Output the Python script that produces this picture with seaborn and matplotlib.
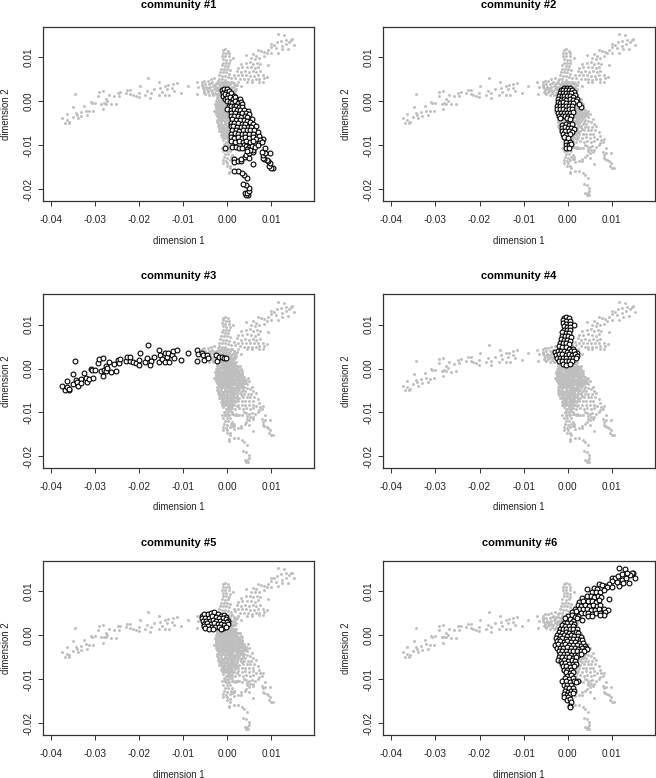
# Six community panels over one shared embedding
import numpy as np
import pandas as pd
import seaborn as sns
import matplotlib
matplotlib.use('Agg')
import matplotlib.pyplot as plt

# coordinates, in thousandths (dim1, dim2)
c1 = [(4.8,-21.3),(4.3,-21.3),(4.0,-20.8),(4.6,-20.9),(4.9,-20.4),(4.9,-19.6),(4.3,-19.0),(3.6,-18.7),(4.5,-17.5),(3.9,-16.8),
(3.4,-16.2),(2.6,-15.8),(1.7,-15.8),(10.5,-15.2),(10.1,-15.2),(9.6,-14.8),(9.7,-14.0),(9.4,-13.6),(9.0,-13.4),(8.4,-13.2),
(8.1,-12.8),(8.2,-12.1),(9.8,-11.8),(8.6,-11.7),(8.0,-11.5),(8.6,-10.7),(8.2,-8.6),(6.0,-14.2),(-0.5,-10.5),(1.5,-13.0),
(1.7,-13.7),(2.5,-13.5),(3.2,-13.6),(3.2,-13.0),(4.0,-12.6),(4.4,-12.2),(5.0,-12.8),(5.0,-11.8),(5.8,-11.6),(6.0,-11.0),
(-1.1,2.6),(-0.6,2.8),(0.0,2.9),(-0.9,2.0),(-0.3,2.2),(0.4,2.3),(-1.0,1.3),(-0.4,1.6),(0.2,1.5),(0.9,1.8),
(1.5,1.3),(-0.5,0.6),(0.1,0.8),(0.7,0.9),(1.3,0.6),(1.9,0.9),(2.5,0.4),(3.0,0.6),(0.0,0.0),(0.6,-0.1),
(1.2,-0.3),(1.8,0.0),(2.4,-0.4),(3.1,-0.2),(3.4,-0.5),(0.4,-1.0),(0.9,-1.1),(1.5,-1.0),(2.1,-1.1),(2.8,-1.2),
(3.4,-1.3),(0.1,-1.8),(0.9,-1.9),(1.6,-1.7),(2.3,-1.9),(3.0,-2.0),(3.8,-2.0),(4.7,-2.1),(1.0,-2.6),(1.9,-2.6),
(2.7,-2.8),(3.5,-2.7),(4.3,-2.6),(5.0,-2.9),(0.9,-3.3),(1.6,-3.4),(2.4,-3.4),(3.2,-3.5),(4.0,-3.3),(4.6,-3.6),
(1.2,-4.1),(2.1,-4.2),(2.9,-4.2),(3.8,-4.3),(4.5,-4.4),(5.7,-4.1),(5.2,-4.7),(0.9,-5.0),(1.7,-5.0),(2.6,-5.0),
(3.4,-5.1),(4.2,-5.2),(6.0,-5.1),(0.8,-5.6),(1.4,-5.7),(2.3,-5.8),(3.1,-5.9),(3.9,-5.9),(4.7,-5.8),(5.5,-5.8),
(6.5,-5.6),(1.1,-6.6),(2.0,-6.5),(2.8,-6.7),(3.7,-6.6),(4.5,-6.6),(5.3,-6.5),(6.1,-6.6),(7.0,-7.0),(1.0,-7.4),
(1.8,-7.3),(2.6,-7.5),(3.4,-7.4),(4.2,-7.5),(5.1,-7.4),(5.8,-7.5),(7.2,-7.9),(0.8,-8.2),(1.6,-8.3),(2.4,-8.2),
(3.3,-8.3),(4.1,-8.2),(5.0,-8.3),(5.9,-8.2),(6.6,-8.5),(7.5,-8.7),(1.0,-9.1),(1.9,-9.2),(2.7,-9.1),(3.6,-9.2),
(4.4,-9.1),(5.2,-9.2),(6.0,-9.0),(7.2,-9.4),(7.9,-9.3),(1.2,-10.4),(2.0,-10.3),(2.8,-10.5),(3.8,-10.0),(4.4,-10.2),
(5.0,-10.3),(5.6,-10.1),(6.3,-10.3),(4.6,-10.8),(5.3,-11.1),(4.6,-11.4),(7.0,-10.0),(3.4,-10.7)]

c2 = [(2.9,-1.2),(-0.8,3.0),(-0.2,3.1),(0.4,3.0),(-1.5,2.6),(-1.0,2.5),(-0.4,2.5),(0.2,2.6),(0.9,2.5),(1.5,2.2),
(-1.7,1.9),(-1.1,1.9),(-0.5,1.8),(0.2,1.9),(0.8,1.8),(1.7,1.5),(-2.0,1.2),(-1.4,1.2),(-0.8,1.1),(-0.1,1.2),
(0.6,1.2),(1.3,1.0),(2.2,0.6),(-2.2,0.5),(-1.6,0.4),(-0.9,0.5),(-0.3,0.4),(0.5,0.5),(1.2,0.3),(1.9,0.1),
(-2.3,-0.2),(-1.7,-0.3),(-1.0,-0.2),(-0.3,-0.3),(0.4,-0.3),(1.1,-0.4),(2.5,-0.7),(-2.4,-1.0),(-1.8,-1.0),(-1.1,-1.1),
(-0.4,-1.0),(0.3,-1.1),(1.0,-1.1),(-2.4,-1.8),(-1.8,-1.8),(-1.1,-1.8),(-0.4,-1.9),(0.3,-1.8),(0.9,-1.7),(-2.3,-2.6),
(-1.6,-2.6),(-0.9,-2.7),(-0.2,-2.6),(0.5,-2.6),(1.1,-2.5),(-2.0,-3.3),(-1.4,-3.4),(-0.7,-3.4),(0.1,-3.3),(0.8,-3.3),
(-1.7,-3.9),(-0.2,-3.9),(0.4,-4.0),(-1.2,-5.4),(-0.5,-5.2),(0.2,-5.3),(0.9,-5.2),(-1.4,-6.0),(-0.7,-5.9),(0.0,-6.1),
(0.8,-6.0),(1.4,-6.2),(-1.3,-6.8),(-0.6,-6.7),(0.2,-6.8),(0.9,-7.0),(-1.0,-7.5),(-0.3,-7.6),(0.5,-7.5),(-0.8,-8.2),
(0.0,-8.3),(-0.3,-9.2),(0.4,-9.3),(-0.4,-9.9),(0.3,-10.0),(0.8,-9.7),(-0.3,-10.6),(0.3,-10.7)]

c3 = [(-37.4,-3.9),(-36.9,-4.9),(-36.4,-2.8),(-36.4,-4.2),(-35.9,-4.9),(-35.8,-4.6),(-35.0,-3.6),(-34.9,-1.3),(-34.5,1.6),(-34.4,-2.6),
(-34.1,-3.1),(-33.9,-3.9),(-33.2,-2.5),(-33.1,-3.3),(-32.4,-1.1),(-32.1,-2.1),(-31.7,-3.1),(-31.3,-2.3),(-31.0,-0.2),(-30.7,-0.4),
(-30.4,-2.2),(-30.0,-0.3),(-29.2,1.2),(-29.1,2.1),(-28.6,-0.5),(-28.2,-1.7),(-28.2,2.4),(-28.0,-0.4),(-27.6,0.6),(-27.5,-0.5),
(-27.2,0.1),(-26.9,1.4),(-26.4,-0.7),(-25.7,1.1),(-25.3,-0.6),(-24.8,2.0),(-24.6,1.2),(-24.3,2.1),(-23.0,1.8),(-22.7,2.6),
(-22.0,1.7),(-22.0,2.6),(-21.4,1.5),(-20.7,1.2),(-20.1,0.9),(-20.1,1.9),(-19.8,3.5),(-18.6,1.5),(-18.1,2.3),(-17.9,5.3),
(-17.3,1.8),(-17.4,0.8),(-16.5,2.7),(-15.4,4.3),(-15.5,1.5),(-15.2,3.0),(-14.8,2.1),(-14.1,1.4),(-14.1,3.5),(-13.6,2.7),
(-13.3,3.6),(-13.1,1.4),(-12.5,3.0),(-12.3,3.9),(-12.0,2.3),(-11.4,4.2),(-10.4,2.0),(-8.9,3.5),(-6.9,4.3),(-6.7,1.6),
(-6.6,3.3),(-5.7,3.6),(-5.4,3.0),(-5.2,2.0),(-4.6,3.0),(-4.3,2.3),(-2.5,3.1),(-2.2,1.7),(-1.7,2.7),(-1.1,2.7),
(-0.7,2.3),(-0.2,2.3)]

c4 = [(-0.9,11.6),(-0.4,11.8),(0.3,11.5),(-1.0,11.0),(-0.3,10.9),(0.5,10.9),(-1.1,10.3),(-0.4,10.2),(0.4,10.2),(1.4,9.9),
(-0.9,9.6),(-0.2,9.5),(0.6,9.4),(-0.9,8.8),(-0.2,8.8),(0.5,8.7),(-1.2,8.2),(-0.5,8.0),(0.3,8.1),(-1.4,7.4),
(-0.7,7.3),(0.1,7.4),(0.7,7.1),(-1.6,6.7),(-0.9,6.6),(-0.2,6.6),(0.4,6.3),(-1.8,5.9),(-1.1,5.8),(-0.4,5.7),
(0.2,5.5),(-1.9,5.1),(-1.2,5.0),(-0.5,4.9),(0.3,4.5),(1.2,4.5),(-2.8,3.8),(-2.2,4.1),(-1.5,4.0),(-0.8,4.1),
(-0.1,3.8),(0.7,3.9),(1.5,4.0),(2.0,3.6),(-2.6,3.1),(-1.9,3.2),(-1.2,3.2),(-0.5,3.1),(0.2,3.2),(0.9,3.1),
(1.6,3.2),(2.1,2.8),(-2.4,2.5),(-1.7,2.4),(-1.0,2.5),(-0.3,2.4),(0.4,2.3),(1.1,2.4),(1.8,2.3),(-1.9,1.7),
(-1.2,1.8),(-0.5,1.6),(0.2,1.7),(0.9,1.6),(-1.0,1.0),(-0.3,0.9),(0.5,1.1)]

c5 = [(-5.7,4.4),(-5.2,4.7),(-4.4,4.7),(-3.7,5.0),(-2.9,5.2),(-2.1,4.7),(-1.3,4.4),(-0.7,4.5),(-0.2,4.2),(-5.6,3.8),
(-4.9,3.9),(-4.1,4.0),(-3.4,4.3),(-2.6,4.1),(-1.8,3.9),(-1.0,3.8),(-0.3,3.6),(0.2,3.3),(-5.5,3.2),(-4.7,3.3),
(-3.9,3.3),(-3.2,3.5),(-2.4,3.3),(-1.6,3.2),(-0.8,3.1),(-0.1,2.9),(-5.2,2.6),(-4.5,2.7),(-3.7,2.6),(-2.9,2.7),
(-2.1,2.6),(-1.4,2.5),(-0.6,2.4),(0.2,2.5),(-5.3,2.1),(-4.4,2.1),(-3.5,1.9),(-2.7,1.9),(-1.8,1.8),(-1.0,1.7),
(-0.3,1.9),(-4.9,1.7),(-4.0,1.5),(-3.1,1.4),(-1.3,1.4)]

c6 = [(11.6,15.2),(12.9,15.0),(14.7,14.2),(14.5,14.0),(15.3,12.9),(13.9,11.9),(11.6,11.1),(12.4,12.6),(13.3,13.0),(14.0,13.6),
(10.0,13.0),(10.6,12.9),(11.4,13.5),(12.3,13.8),(13.4,14.0),(10.1,12.3),(11.1,12.1),(12.5,11.8),(9.3,11.7),(8.5,11.2),
(7.0,11.7),(7.8,11.4),(9.0,10.9),(10.0,11.0),(5.9,10.8),(6.7,10.4),(4.3,10.5),(5.5,9.9),(6.4,9.7),(7.3,9.9),
(8.3,10.2),(9.3,8.3),(3.2,8.5),(4.4,8.8),(5.3,8.9),(6.0,8.6),(6.9,8.8),(7.6,8.6),(2.6,7.6),(3.5,7.7),
(4.5,7.8),(5.4,7.7),(6.3,7.5),(7.0,7.9),(2.3,6.9),(3.1,6.6),(4.0,6.8),(4.9,6.6),(5.8,6.8),(6.6,6.6),
(7.4,6.8),(1.6,6.0),(2.5,5.9),(3.5,5.9),(4.4,5.9),(5.3,5.8),(6.2,5.7),(7.1,5.9),(8.1,5.9),(9.1,5.6),
(1.0,5.3),(1.9,5.4),(2.9,5.1),(3.8,5.0),(4.7,5.0),(5.6,4.9),(6.5,5.0),(7.3,5.1),(8.4,5.2),(8.2,4.5),
(2.4,4.4),(3.2,3.4),(4.5,4.4),(5.6,4.4),(7.3,4.5),(0.1,4.4),(0.9,4.5),(1.7,4.1),(-0.6,3.8),(0.4,3.6),
(1.1,3.3),(2.2,3.8),(-0.8,2.7),(-0.1,2.8),(0.7,2.7),(1.5,2.6),(-1.4,2.2),(-0.6,2.0),(0.2,2.1),(1.1,2.0),
(-1.7,1.4),(-1.0,1.4),(-0.3,1.3),(0.5,1.3),(1.3,1.3),(2.0,1.5),(-2.0,0.8),(-1.3,0.6),(-0.5,0.7),(0.3,0.5),
(1.1,0.6),(1.8,0.7),(2.4,0.5),(-2.4,0.0),(-1.7,-0.1),(-0.9,0.0),(-0.1,-0.1),(0.7,0.0),(1.5,-0.1),(2.3,-0.1),
(2.9,-0.4),(-2.7,-0.7),(-2.0,-0.8),(-1.2,-0.7),(-0.4,-0.8),(0.4,-0.8),(1.2,-0.8),(2.0,-0.9),(2.8,-1.0),(3.3,-1.1),
(-2.5,-1.4),(-1.7,-1.4),(-0.9,-1.5),(-0.1,-1.4),(0.8,-1.5),(1.6,-1.5),(2.5,-1.7),(3.4,-1.8),(-2.9,-2.2),(-2.2,-2.1),
(-1.4,-2.2),(-0.6,-2.1),(0.3,-2.2),(1.1,-2.2),(2.0,-2.3),(2.9,-2.4),(3.8,-2.4),(-2.5,-2.9),(-1.8,-2.9),(-1.0,-2.9),
(-0.2,-2.8),(0.7,-2.9),(1.6,-3.0),(2.4,-3.1),(3.3,-3.0),(4.1,-2.9),(4.3,-3.2),(-2.0,-3.6),(-1.2,-3.6),(-0.4,-3.6),
(0.4,-3.6),(1.2,-3.7),(2.0,-3.7),(2.9,-3.6),(3.6,-3.5),(-1.7,-4.3),(-0.9,-4.3),(-0.1,-4.2),(0.8,-4.4),(1.6,-4.4),
(2.4,-4.4),(3.1,-4.2),(-2.0,-5.0),(-1.3,-5.0),(-0.5,-5.0),(0.3,-5.0),(1.1,-5.1),(1.9,-5.0),(-2.1,-5.6),(-1.5,-5.8),
(-0.8,-5.7),(0.0,-5.8),(0.9,-5.7),(1.7,-5.9),(-1.4,-6.4),(-0.6,-6.4),(0.3,-6.5),(1.1,-6.5),(1.8,-6.6),(-1.1,-7.1),
(-0.3,-7.1),(0.6,-7.2),(1.4,-7.1),(-0.9,-7.8),(-0.1,-7.8),(0.8,-7.8),(-0.4,-8.4),(0.4,-8.5),(1.2,-8.4),(-0.1,-9.2),
(0.7,-9.1),(-0.7,-9.8),(0.2,-9.9),(1.1,-9.8),(-1.2,-10.5),(-0.4,-10.5),(0.5,-10.6),(1.4,-10.4),(2.3,-10.5),(1.8,-10.7),
(-0.9,-11.2),(-0.1,-11.3),(0.7,-11.3),(-0.5,-12.0),(0.3,-12.0),(1.2,-12.1),(-0.7,-12.7),(0.1,-12.8),(0.8,-12.6),(1.5,-12.7),
(-0.9,-13.4),(-0.2,-13.5),(0.6,-13.4),(1.1,-13.2),(-0.8,-14.0),(0.1,-14.1),(-0.1,-14.7),(0.6,-14.6),(0.7,-15.1),(0.5,-16.0),
(0.5,-16.4)]

# gray-only points that fill the solid middle of the cloud
rest = [(-2.2,1.0),(-1.2,0.9),(-0.2,0.9),(0.9,1.0),(1.7,0.3),(-2.0,0.2),(-1.3,0.1),(-0.6,0.2),(0.2,0.0),(0.9,0.2),
(1.5,0.4),(2.1,-0.4),(-2.3,-0.5),(-1.5,-0.5),(-0.7,-0.5),(0.1,-0.5),(0.8,-0.5),(1.6,-0.5),(2.4,-0.8),(-2.6,-1.1),
(-1.4,-1.1),(-0.7,-1.2),(0.0,-1.1),(0.6,-1.2),(1.3,-1.2),(2.4,-1.3),(3.0,-1.5),(-2.1,-1.6),(-1.3,-1.7),(-0.5,-1.6),
(0.4,-1.5),(1.2,-1.7),(2.0,-1.6),(2.9,-1.8),(-2.6,-2.4),(-1.8,-2.4),(-1.0,-2.4),(-0.2,-2.4),(0.7,-2.3),(1.5,-2.4),
(2.4,-2.4),(3.3,-2.4),(-2.2,-2.7),(-1.4,-3.0),(-0.6,-3.1),(0.2,-3.1),(1.1,-3.1),(2.0,-3.0),(2.8,-3.1),(3.7,-3.1),
(-2.3,-3.3),(-1.6,-3.7),(-0.8,-3.8),(0.0,-3.8),(0.8,-3.8),(1.6,-3.6),(2.5,-3.8),(3.3,-4.0),(-2.2,-4.2),(-1.3,-4.4),
(-0.5,-4.5),(0.4,-4.4),(1.2,-4.5),(2.0,-4.6),(2.8,-4.8),(3.6,-4.7),(-2.3,-4.8),(-1.7,-5.3),(-0.9,-5.3),(-0.1,-5.4),
(0.7,-5.3),(1.5,-5.4),(2.3,-5.4),(3.0,-5.5),(-1.9,-6.1),(-1.0,-6.1),(-0.2,-6.2),(0.6,-6.1),(1.4,-6.1),(2.2,-6.2),
(3.3,-6.2),(-1.7,-6.8),(-0.9,-6.9),(-0.1,-6.8),(0.6,-6.8),(1.5,-6.8),(2.3,-7.0),(-1.3,-7.6),(-0.6,-7.4),(0.2,-7.5),
(1.1,-7.6),(1.9,-7.7),(-1.2,-8.2),(-0.4,-8.0),(0.4,-8.1),(1.1,-8.1),(2.2,-8.6),(-0.8,-8.8),(0.2,-8.8),(1.2,-9.0),
(-1.4,-2.9),(-0.4,-2.2),(0.9,-2.7),(1.9,-1.3),(-1.9,-1.2),(-0.8,-1.5),(0.5,-0.9),(1.7,-2.7),(2.7,-2.1),(-0.3,-3.4),
(-1.1,-4.0),(0.6,-4.1),(2.2,-4.1),(-2.6,1.6),(-3.4,2.4),(-4.2,3.0),(-3.0,3.8),(-2.2,3.1),(-1.5,2.8),(-3.6,4.1)]

communities = [c1, c2, c3, c4, c5, c6]
x_ticks = [-0.04, -0.03, -0.02, -0.01, 0.00, 0.01]
y_ticks = [-0.02, -0.01, 0.00, 0.01]

sns.set_theme(style='white')
plt.rcParams['font.family'] = ['Liberation Sans', 'DejaVu Sans']
plt.rcParams['axes.unicode_minus'] = False

frames = []
for k, pts in enumerate(communities):
    d = pd.DataFrame(pts, columns=['d1', 'd2']) / 1000.0
    d['community'] = k + 1
    frames.append(d)
d = pd.DataFrame(rest, columns=['d1', 'd2']) / 1000.0
d['community'] = 0
frames.append(d)
df = pd.concat(frames, ignore_index=True)

W, H = 656.0, 778.0
lefts = [(43, 314), (383.3, 655)]
rows = [(27, 201), (294.3, 468), (560.7, 735)]
title_y = [5, 275.7, 542.7]

fig = plt.figure(figsize=(6.56, 7.78), dpi=100)
for k in range(6):
    (l, r), (t, b) = lefts[k % 2], rows[k // 2]
    ax = fig.add_axes([l / W, 1 - b / H, (r - l) / W, (b - t) / H])
    sns.scatterplot(data=df, x='d1', y='d2', ax=ax, color='#bebebe', s=4.5, linewidth=0, legend=False)
    sns.scatterplot(data=df[df['community'] == k + 1], x='d1', y='d2', ax=ax, color='white',
                    edgecolor='black', s=12, linewidth=0.8, legend=False)
    ax.set_xlim(-0.0418, 0.01977)
    ax.set_ylim(-0.02266, 0.0169)
    ax.set_xticks(x_ticks)
    ax.set_xticklabels(['%.2f' % v for v in x_ticks], fontsize=7.2, color='#222222')
    ax.set_yticks(y_ticks)
    ax.set_yticklabels(['%.2f' % v for v in y_ticks], fontsize=7.2, rotation=90, va='center', color='#222222')
    ax.tick_params(axis='x', direction='out', length=3.8, width=0.7, color='#333333', bottom=True, pad=6)
    ax.tick_params(axis='y', direction='out', length=3.8, width=0.7, color='#333333', left=True, pad=3)
    for s in ax.spines.values():
        s.set_linewidth(0.9)
        s.set_color('#333333')
    ax.set_xlabel('dimension 1', fontsize=6.9, color='#222222', va='center')
    ax.xaxis.set_label_coords(0.5, -39.5 / (b - t))
    ax.set_ylabel('dimension 2', fontsize=6.9, color='#222222', va='center')
    ax.yaxis.set_label_coords(-37.0 / (r - l), 0.5)
    fig.text((l + r) / 2 / W, 1 - title_y[k // 2] / H, 'community #%d' % (k + 1), fontsize=8.0,
             fontweight='bold', color='black', ha='center', va='center')

fig.savefig('out.png', dpi=100)
plt.close()
